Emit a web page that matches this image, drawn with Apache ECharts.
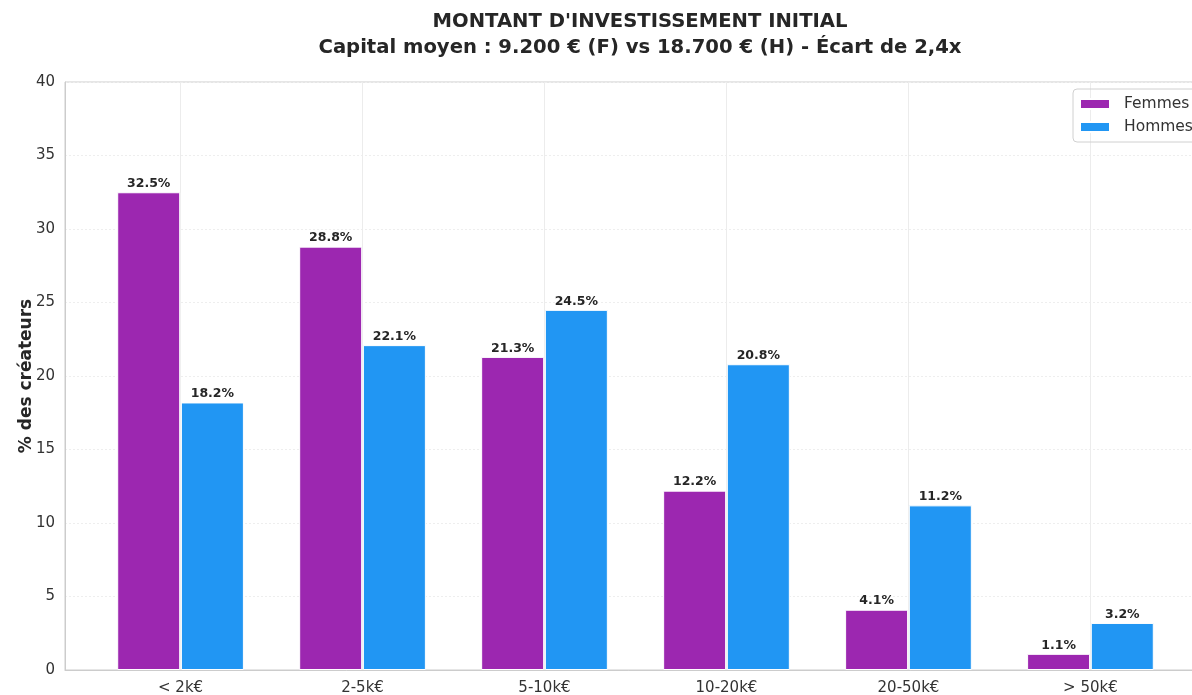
<!DOCTYPE html>
<html><head><meta charset="utf-8">
<script src="https://cdn.jsdelivr.net/npm/echarts@6/dist/echarts.min.js"></script>
<style>html,body{margin:0;padding:0;background:#fff}#c{width:1192px;height:695px}</style>
</head><body><div id="c"></div>
<script>
const categories = ['< 2k€', '2-5k€', '5-10k€', '10-20k€', '20-50k€', '> 50k€'];
const femmes = [32.5, 28.8, 21.3, 12.2, 4.1, 1.1];
const hommes = [18.2, 22.1, 24.5, 20.8, 11.2, 3.2];
const yTicks = [0, 5, 10, 15, 20, 25, 30, 35, 40];
const seriesNames = ['Femmes', 'Hommes'];
const colors = ['#9C27B0', '#2196F3'];
const offset = 0.175;

const chart = echarts.init(document.getElementById('c'), null, {renderer: 'canvas'});
const font = 'DejaVu Sans';
const labelCfg = {
  show: true, position: 'top', distance: 2,
  formatter: p => p.value[1].toFixed(1) + '%',
  fontFamily: font, fontSize: 12.5, fontWeight: 'bold', color: '#262626'
};
chart.setOption({
  animation: false,
  textStyle: {fontFamily: font},
  title: {
    text: "MONTANT D'INVESTISSEMENT INITIAL\nCapital moyen : 9.200 € (F) vs 18.700 € (H) - Écart de 2,4x",
    left: 635, top: 4, textAlign: 'center',
    textStyle: {fontFamily: font, fontSize: 19.6, fontWeight: 'bold', color: '#262626', lineHeight: 26}
  },
  legend: {
    orient: 'vertical', left: 1073, top: 89,
    itemWidth: 30, itemHeight: 10, itemGap: 7,
    icon: 'rect',
    padding: [7, 10, 7, 6],
    borderColor: '#d0d0d0', borderWidth: 1, borderRadius: 4,
    textStyle: {fontFamily: font, fontSize: 15.5, color: '#333', padding: [0, 0, 0, 9]},
    data: seriesNames
  },
  grid: {left: 65, top: 82, width: 1141, bottom: 25, outerBoundsMode: 'none', containLabel: false,
    show: true, borderColor: '#cccccc', borderWidth: 1, backgroundColor: 'transparent'},
  xAxis: {
    type: 'value', min: -0.635, max: 5.635,
    axisLine: {show: true, onZero: false, lineStyle: {color: '#cccccc'}},
    axisTick: {show: false, customValues: [0, 1, 2, 3, 4, 5]},
    axisLabel: {customValues: [0, 1, 2, 3, 4, 5], formatter: v => categories[Math.round(v)] || '',
      fontFamily: font, fontSize: 15, color: '#333', margin: 11},
    splitLine: {show: true, lineStyle: {color: '#ececec', width: 1}}
  },
  yAxis: {
    type: 'value', min: 0, max: 40, interval: 5,
    name: '% des créateurs', nameLocation: 'middle', nameGap: 30, nameMoveOverlap: false,
    nameTextStyle: {fontFamily: font, fontSize: 17, fontWeight: 'bold', color: '#262626'},
    axisLine: {show: true, onZero: false, lineStyle: {color: '#cccccc'}},
    axisTick: {show: false},
    axisLabel: {fontFamily: font, fontSize: 15, color: '#333', margin: 10, formatter: v => yTicks.includes(v) ? String(v) : ''},
    splitLine: {show: true, lineStyle: {color: '#eeeeee', type: [2, 2], width: 1}}
  },
  series: [
    {name: seriesNames[0], type: 'bar', barWidth: 63, barGap: '-100%',
     itemStyle: {color: colors[0], borderColor: '#ffffff', borderWidth: 1},
     label: labelCfg,
     data: femmes.map((v, i) => [i - offset, v])},
    {name: seriesNames[1], type: 'bar', barWidth: 63, barGap: '-100%',
     itemStyle: {color: colors[1], borderColor: '#ffffff', borderWidth: 1},
     label: labelCfg,
     data: hommes.map((v, i) => [i + offset, v])}
  ]
});
</script></body></html>
